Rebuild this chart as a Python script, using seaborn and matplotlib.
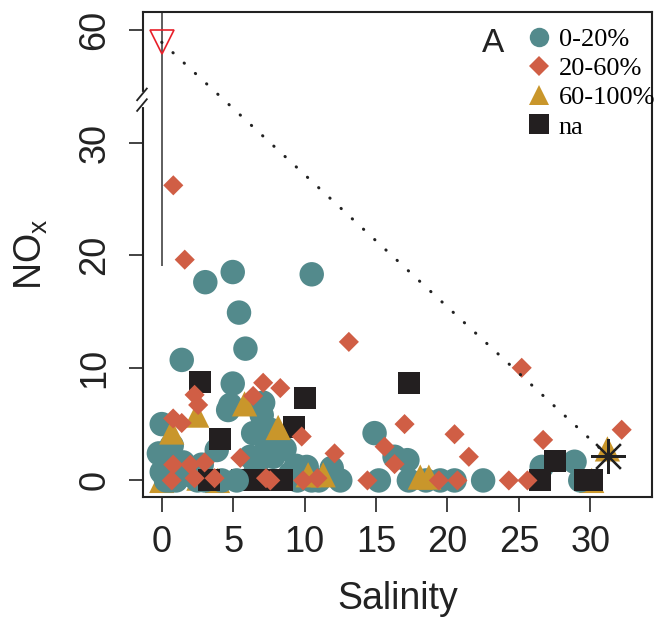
import numpy as np
import pandas as pd
import seaborn as sns
import matplotlib
matplotlib.use('Agg')
import matplotlib.pyplot as plt
from matplotlib.lines import Line2D

# values above the break are drawn shifted down by this amount
BREAK_SHIFT = 20

teal_sal = [3.05, 4.97, 10.5, 5.41, 5.86, 1.4, 4.97, 4.8, 4.65, 6.9, 7.1, 7.0,
            0.0, 0.7, -0.2, 0.0, 1.5, 2.0, 3.85, 6.4, 6.2, 7.35, 7.6, 7.8,
            10.15, 11.9, 12.5, 14.9, 15.2, 17.2, 16.3, 28.9, 26.6, 8.6, 9.4,
            0.3, 0.6, 1.0, 2.5, 3.0, 4.2, 9.5, 10.5, 11.0,
            17.3, 18.5, 19.5, 20.5, 22.5, 29.3, 1.2, 0.5, 2.8, 6.6, 9.0]
teal_nox = [17.6, 18.5, 18.3, 14.9, 11.7, 10.7, 8.6, 6.7, 6.25, 6.5, 6.9, 5.8,
            5.0, 3.1, 2.4, 0.75, 1.6, 0.5, 2.7, 4.2, 2.1, 3.3, 4.5, 2.1,
            1.2, 1.1, 0.0, 4.2, 0.0, 1.8, 2.1, 1.66, 1.2, 2.8, 1.3,
            0.0, 0.0, 0.0, 0.0, 0.0, 0.0, 0.0, 0.0, 0.0,
            0.0, 0.0, 0.0, 0.0, 0.0, 0.0, 0.3, 1.2, 1.4, 1.0, 0.6]
# circle lying on top of the squares
teal_top_sal = [5.25]
teal_top_nox = [0.0]

# triangles mostly hidden under the circles
gold_low_sal = [0.0, 0.1, 3.9, 2.6, 30.1]
gold_low_nox = [0.0, 1.6, 0.0, 0.2, 0.0]
# triangles drawn on top
gold_sal = [0.7, 2.45, 5.8, 8.15, 10.25, 11.3, 18.1, 18.7, 31.2]
gold_nox = [4.3, 5.8, 6.8, 4.7, 0.5, 0.5, 0.3, 0.3, 2.8]

na_sal = [2.68, 17.3, 10.0, 4.08, 9.26, 27.5, 26.5, 29.6, 30.1, 3.3, 5.6,
          6.9, 8.4]
na_nox = [8.76, 8.67, 7.3, 3.67, 4.77, 1.75, 0.0, 0.0, 0.0, 0.0, 0.0,
          0.0, 0.0]

red_sal = [0.81, 1.61, 13.1, 25.2, 7.1, 8.3, 6.4, 2.3, 2.55, 0.8, 1.4, 9.8,
           17.0, 20.5, 26.7, 32.2, 12.1, 15.6, 16.3, 21.5, 5.5, 0.7, 2.3,
           3.7, 7.3, 7.6, 9.9, 10.9, 14.4, 19.4, 20.7, 24.3, 25.6, 0.8,
           3.0, 2.0]
red_nox = [26.2, 19.6, 12.3, 10.0, 8.67, 8.2, 7.5, 7.6, 6.7, 5.5, 5.1, 3.9,
           5.0, 4.1, 3.6, 4.5, 2.4, 3.0, 1.45, 2.1, 2.0, 0.0, 0.2,
           0.2, 0.2, 0.0, 0.0, 0.2, 0.0, 0.0, 0.0, 0.0, 0.0, 1.4,
           1.6, 1.4]

groups = ['0-20%', '20-60%', '60-100%', 'na']
colors = {'0-20%': '#538A8C', '20-60%': '#D05E45',
          '60-100%': '#C9962B', 'na': '#231F20'}
markers = {'0-20%': 'o', '20-60%': 'D', '60-100%': '^', 'na': 's'}
sizes = {'0-20%': 310, '20-60%': 105, '60-100%': 330, 'na': 250}

# river end member and marine end member
river_sal, river_nox = 0.0, 58.9
sea_sal, sea_nox = 31.27, 2.16


def frame(sal, nox, grp):
    return pd.DataFrame({'Salinity': sal, 'NOx': nox, 'grp': grp})


# row order = drawing order
df = pd.concat([
    frame(gold_low_sal, gold_low_nox, '60-100%'),
    frame(teal_sal, teal_nox, '0-20%'),
    frame(na_sal, na_nox, 'na'),
    frame(teal_top_sal, teal_top_nox, '0-20%'),
    frame(gold_sal, gold_nox, '60-100%'),
    frame(red_sal, red_nox, '20-60%'),
], ignore_index=True)

plt.rcParams['font.family'] = ['Liberation Sans', 'DejaVu Sans']
plt.rcParams['mathtext.default'] = 'regular'

fig = plt.figure(figsize=(6.59, 6.24), dpi=100)
ax = fig.add_axes([0.2166, 0.203, 0.7723, 0.778])

sns.scatterplot(data=df, x='Salinity', y='NOx', hue='grp', style='grp',
                size='grp', hue_order=groups, style_order=groups,
                size_order=groups, palette=colors, markers=markers,
                sizes=sizes, linewidth=0, alpha=1, legend=False, ax=ax)

river_plot = river_nox - BREAK_SHIFT
ax.vlines(river_sal, 19, 41.6, color='#333333', lw=1.1)
ax.plot([river_sal, sea_sal], [river_plot, sea_nox], color='#222222',
        lw=2.2, linestyle=(0, (0.1, 4.9)), dash_capstyle='round')
ax.plot([river_sal], [river_plot], marker='v', ms=17, mfc='none',
        mec='#E8202A', mew=1.2, ls='none')
ax.plot([sea_sal], [sea_nox], marker=(8, 2, 0), ms=25, color='#222222',
        mew=1.6, ls='none')

ax.set_xlim(-1.33, 34.3)
ax.set_ylim(-1.5, 41.6)
ax.set_xticks([0, 5, 10, 15, 20, 25, 30])
ax.set_yticks([0, 10, 20, 30, 60 - BREAK_SHIFT])
ax.set_yticklabels(['0', '10', '20', '30', '60'], rotation=90, va='center')
ax.tick_params(axis='x', length=11, width=1.2, pad=9, labelsize=26,
               colors='#222222')
ax.tick_params(axis='y', length=10, width=1.2, pad=12, labelsize=26,
               colors='#222222')
for sp in ax.spines.values():
    sp.set_linewidth(1.5)
    sp.set_color('#222222')

# axis break on the left spine
yb = 0.819
ax.plot([0, 0], [yb - 0.011, yb + 0.011], color='white', lw=3,
        transform=ax.transAxes, clip_on=False, zorder=5)
for off in (-0.011, 0.011):
    ax.plot([-0.011, 0.008], [yb + off - 0.012, yb + off + 0.012],
            color='#222222', lw=1.3, transform=ax.transAxes,
            clip_on=False, zorder=6)

ax.set_xlabel('Salinity', fontsize=27, color='#222222')
ax.set_ylabel('NO$_x$', fontsize=27, color='#222222')
ax.xaxis.set_label_coords(0.5, -0.172)
ax.yaxis.set_label_coords(-0.183, 0.5)

ax.text(0.688, 0.935, 'A', transform=ax.transAxes, fontsize=24,
        ha='center', va='center', color='#222222')

handles = [Line2D([], [], marker=markers[g], color=colors[g], ls='none',
                  mew=0, ms={'0-20%': 14, '20-60%': 10, '60-100%': 15,
                             'na': 14}[g]) for g in groups]
ax.legend(handles, groups, loc='upper left', bbox_to_anchor=(0.755, 0.968),
          frameon=False, prop={'family': 'Liberation Serif', 'size': 19},
          handlelength=0.9, handletextpad=0.3, labelspacing=0.22,
          borderpad=0, borderaxespad=0)

fig.savefig('out.png', dpi=100)
